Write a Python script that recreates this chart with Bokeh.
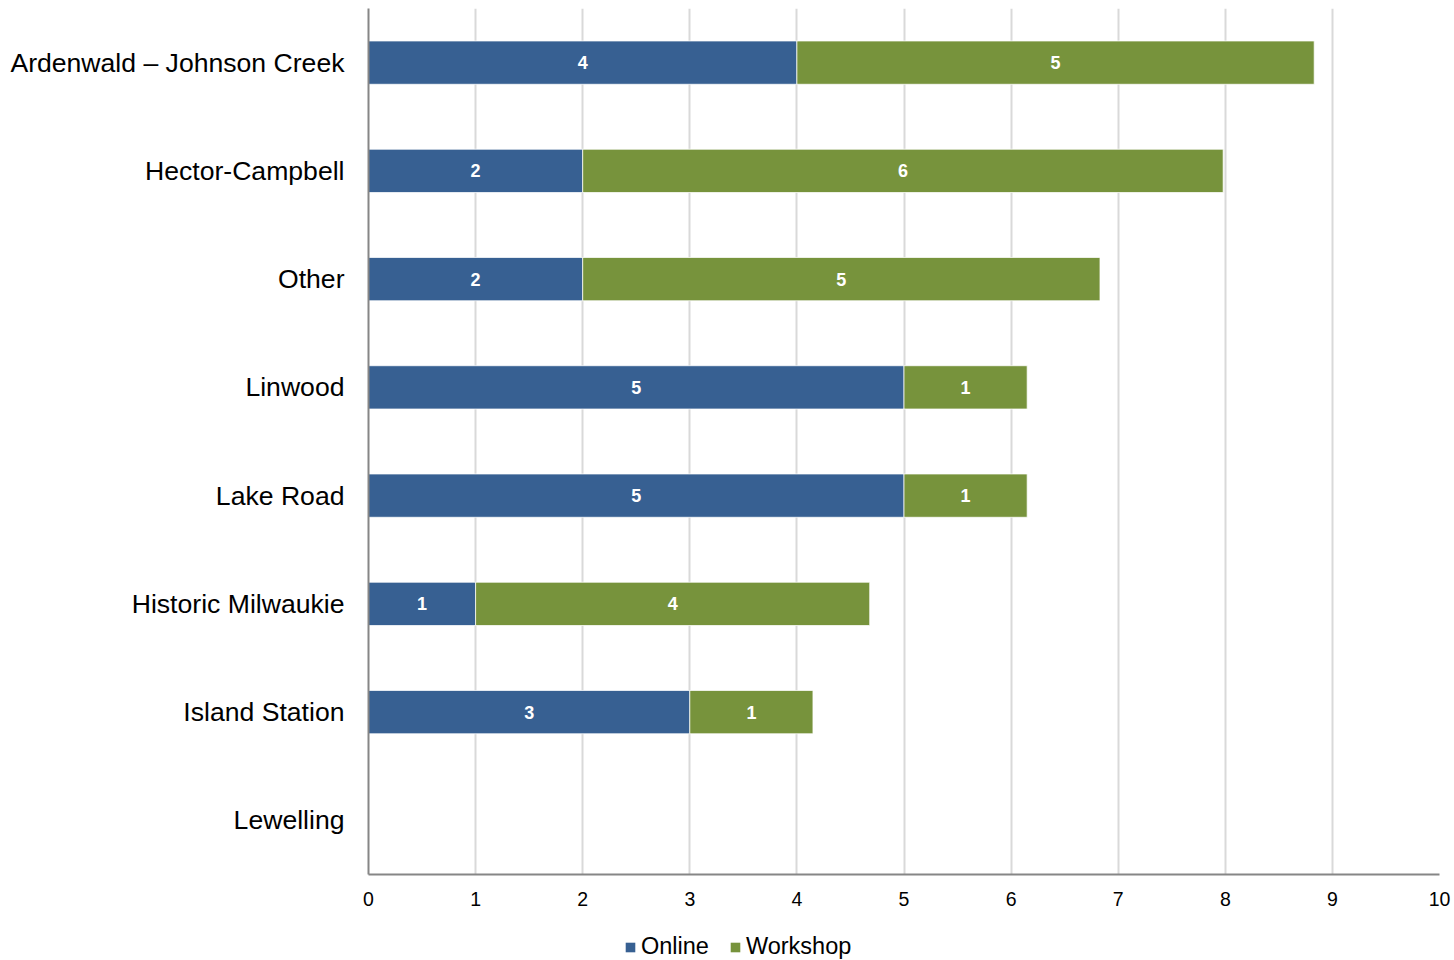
from bokeh.plotting import figure
from bokeh.layouts import column
from bokeh.models import (ColumnDataSource, FactorRange, Range1d, Legend, LegendItem,
                          LabelSet, FixedTicker)
from bokeh.core.properties import value
from bokeh.embed import file_html
from bokeh.resources import INLINE

categories = ["Ardenwald – Johnson Creek", "Hector-Campbell", "Other", "Linwood",
              "Lake Road", "Historic Milwaukie", "Island Station", "Lewelling"]
online = [4, 2, 2, 5, 5, 1, 3, 0]
workshop = [4.83, 5.98, 4.83, 1.15, 1.15, 3.68, 1.15, 0]
x_ticks = [0, 1, 2, 3, 4, 5, 6, 7, 8, 9, 10]
series_names = ["Online", "Workshop"]

BLUE = "#376092"
GREEN = "#77933C"
FONT = "Liberation Sans"

src = ColumnDataSource(dict(
    cat=categories,
    online=online,
    total=[o + w for o, w in zip(online, workshop)],
))

lab_x, lab_y, lab_t = [], [], []
for c, o, w in zip(categories, online, workshop):
    if o > 0:
        lab_x.append(o / 2); lab_y.append(c); lab_t.append(str(round(o)))
    if w > 0:
        lab_x.append(o + w / 2); lab_y.append(c); lab_t.append(str(round(w)))
lab_src = ColumnDataSource(dict(x=lab_x, y=lab_y, t=lab_t))

p = figure(y_range=FactorRange(factors=list(reversed(categories)), range_padding=0),
           x_range=Range1d(0, 10),
           frame_width=1071, frame_height=866,
           min_border_left=368, min_border_top=8, min_border_right=12, min_border_bottom=40,
           output_backend="svg", toolbar_location=None)

p.hbar(y="cat", left=0, right="online", height=0.4, source=src,
       fill_color=BLUE, line_color="white", line_width=0.75)
p.hbar(y="cat", left="online", right="total", height=0.4, source=src,
       fill_color=GREEN, line_color="white", line_width=0.75)

labels = LabelSet(x="x", y="y", text="t", source=lab_src, text_align="center",
                  text_baseline="middle", text_color="white", text_font=value(FONT),
                  text_font_size="18px", text_font_style="bold")
p.add_layout(labels)

p.outline_line_color = None
p.ygrid.grid_line_color = None
p.xgrid.grid_line_color = "#d9d9d9"
p.xgrid.grid_line_width = 2
p.xaxis.ticker = FixedTicker(ticks=x_ticks)

for ax in (p.xaxis[0], p.yaxis[0]):
    ax.axis_line_color = "#868686"
    ax.axis_line_width = 2
    ax.major_tick_line_color = None
    ax.minor_tick_line_color = None
    ax.major_tick_out = 0
    ax.major_tick_in = 0
    ax.minor_tick_out = 0
    ax.major_label_text_font = FONT
    ax.major_label_text_color = "black"

p.xaxis.major_label_text_font_size = "19.5px"
p.xaxis.major_label_standoff = 17
p.yaxis.major_label_text_font_size = "26.6px"
p.yaxis.major_label_standoff = 24

# legend strip below the chart (swatch glyphs carry no visible data)
nan = float("nan")
p2 = figure(width=1451, height=46, x_range=Range1d(0, 1), y_range=Range1d(0, 1),
            min_border_left=0, min_border_right=0, min_border_top=0, min_border_bottom=0,
            output_backend="svg", toolbar_location=None)
p2.axis.visible = False
p2.grid.grid_line_color = None
p2.outline_line_color = None
swatch = ColumnDataSource(dict(y=[nan], left=[nan], right=[nan]))
lr1 = p2.hbar(y="y", left="left", right="right", height=0.4, source=swatch,
              fill_color=BLUE, line_color=None)
lr2 = p2.hbar(y="y", left="left", right="right", height=0.4, source=swatch,
              fill_color=GREEN, line_color=None)
legend = Legend(items=[LegendItem(label=series_names[0], renderers=[lr1]),
                       LegendItem(label=series_names[1], renderers=[lr2])],
                orientation="horizontal", location=(256, 0),
                glyph_width=12, glyph_height=12, label_standoff=5, spacing=20,
                padding=0, margin=0, border_line_color=None, background_fill_alpha=0,
                label_text_font=FONT, label_text_font_size="23.5px",
                label_text_color="black", label_text_line_height=1.0)
p2.add_layout(legend, "center")

open("out.html", "w").write(file_html(column(p, p2, spacing=0), INLINE))
